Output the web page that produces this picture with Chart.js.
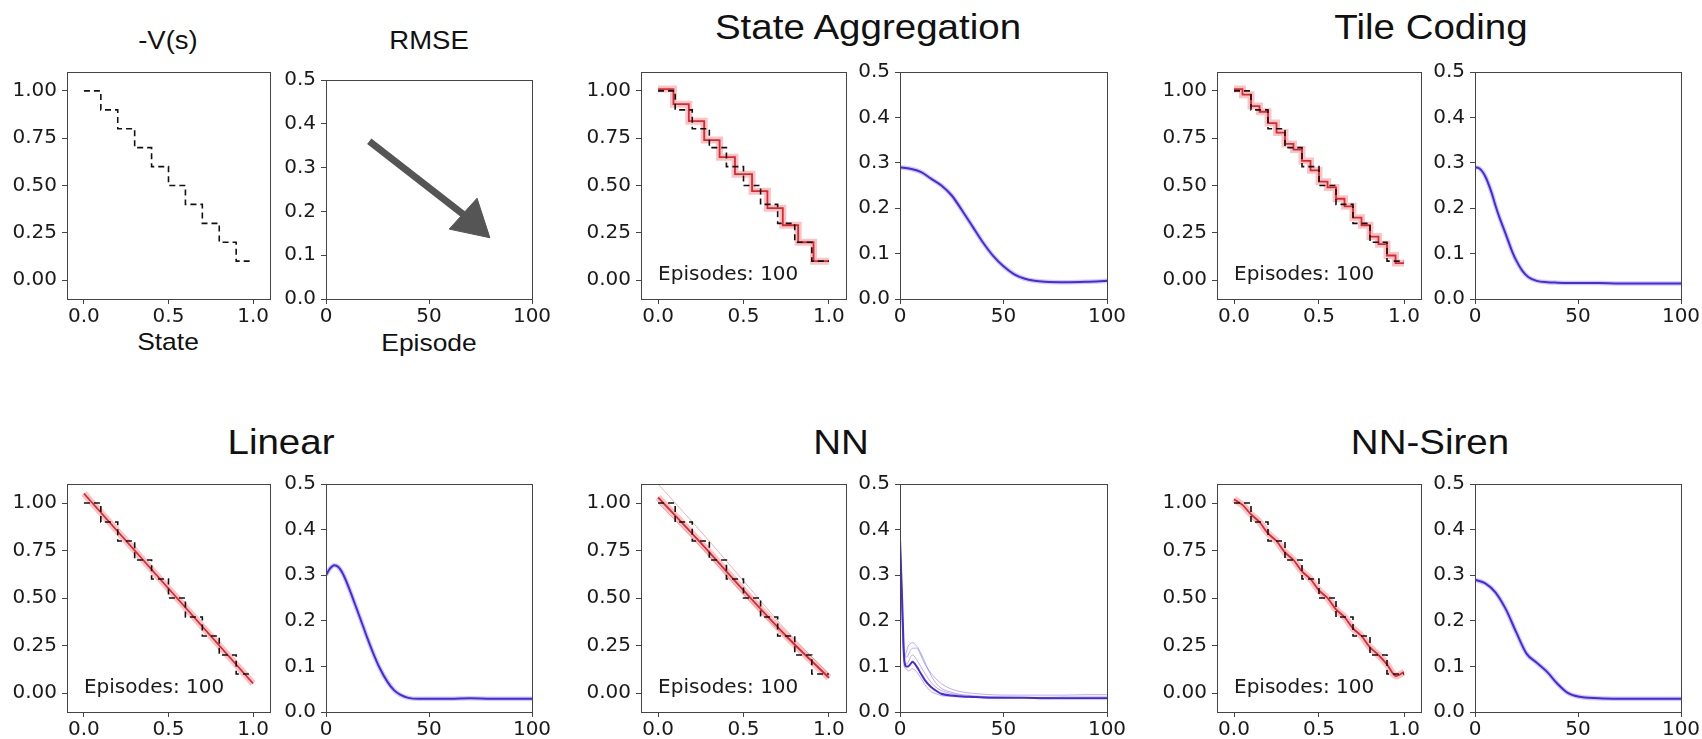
<!DOCTYPE html>
<html>
<head>
<meta charset="utf-8">
<script src="https://cdn.jsdelivr.net/npm/chart.js@4.4.1/dist/chart.umd.min.js"></script>
<style>
  body { margin: 0; background: #fff; width: 1702px; height: 739px; overflow: hidden; position: relative;
         font-family: 'Liberation Sans', Arial, sans-serif; color: #111; }
  .cell { position: absolute; }
  .lbl { position: absolute; transform: translate(-50%, -50%) scaleX(1.1); line-height: 1; white-space: nowrap; }
</style>
</head>
<body>
<div class="lbl" style="left:168px;top:40px;font-size:25px">-V(s)</div>
<div class="lbl" style="left:429px;top:40px;font-size:25px">RMSE</div>
<div class="lbl" style="left:168px;top:342px;font-size:24px">State</div>
<div class="lbl" style="left:429px;top:343px;font-size:24px">Episode</div>
<div class="lbl" style="left:868px;top:26px;font-size:35px">State Aggregation</div>
<div class="lbl" style="left:1431px;top:26px;font-size:35px">Tile Coding</div>
<div class="lbl" style="left:281px;top:441px;font-size:35px">Linear</div>
<div class="lbl" style="left:841px;top:441px;font-size:35px">NN</div>
<div class="lbl" style="left:1430px;top:441px;font-size:35px">NN-Siren</div>

<script>
// tick labels
const valueXTicks = [0, 0.5, 1.0];
const valueYTicks = [0, 0.25, 0.5, 0.75, 1.0];
const rmseXTicks = [0, 50, 100];
const rmseYTicks = [0, 0.1, 0.2, 0.3, 0.4, 0.5];

// true value (dashed staircase)
const stateX = [0, 0.1, 0.2, 0.3, 0.4, 0.5, 0.6, 0.7, 0.8, 0.9, 1.0];
const trueValue = [1.0, 0.9, 0.8, 0.7, 0.6, 0.5, 0.4, 0.3, 0.2, 0.1, 0.1];

// learned values after 100 episodes
const saStateX = [0, 0.09, 0.18, 0.27, 0.36, 0.45, 0.55, 0.64, 0.73, 0.82, 0.91, 1.0];
const saValue = [1.01, 0.93, 0.84, 0.74, 0.65, 0.56, 0.47, 0.38, 0.29, 0.20, 0.10, 0.10];

const tcStateX = [0, 0.05, 0.1, 0.15, 0.2, 0.25, 0.3, 0.35, 0.4, 0.45, 0.5, 0.55, 0.6, 0.65, 0.7, 0.75, 0.8, 0.85, 0.9, 0.95, 1.0];
const tcValue = [1.01, 0.98, 0.92, 0.89, 0.83, 0.78, 0.72, 0.69, 0.63, 0.58, 0.52, 0.49, 0.43, 0.39, 0.33, 0.29, 0.23, 0.19, 0.13, 0.09, 0.09];

const linStateX = [0, 1.0];
const linValue = [1.05, 0.05];

const nnStateX = [0, 0.25, 0.5, 0.75, 1.0];
const nnValueA = [1.03, 0.79, 0.54, 0.30, 0.08];
const nnValueB = [1.10, 0.85, 0.59, 0.33, 0.10];
const nnValueC = [1.00, 0.77, 0.52, 0.29, 0.09];

const sirenStateX = [0, 0.05, 0.1, 0.15, 0.2, 0.25, 0.3, 0.35, 0.4, 0.45, 0.5, 0.55, 0.6, 0.65, 0.7, 0.75, 0.8, 0.85, 0.9, 0.95, 1.0];
const sirenValue = [1.02, 0.99, 0.94, 0.90, 0.84, 0.80, 0.74, 0.70, 0.64, 0.60, 0.54, 0.50, 0.44, 0.40, 0.34, 0.30, 0.24, 0.20, 0.15, 0.09, 0.11];

// RMSE per episode
const saEp = [0, 5, 10, 15, 20, 25, 30, 35, 40, 45, 50, 55, 60, 65, 70, 80, 90, 100];
const saRmse = [0.29, 0.287, 0.28, 0.265, 0.25, 0.228, 0.195, 0.16, 0.125, 0.095, 0.072, 0.055, 0.045, 0.04, 0.038, 0.037, 0.038, 0.040];

const tcEp = [0, 2, 5, 8, 10, 12, 15, 18, 20, 23, 26, 30, 35, 40, 50, 60, 70, 80, 90, 100];
const tcRmse = [0.29, 0.288, 0.27, 0.235, 0.205, 0.178, 0.142, 0.105, 0.085, 0.062, 0.048, 0.04, 0.037, 0.036, 0.035, 0.035, 0.034, 0.034, 0.034, 0.034];

const linEp = [0, 2, 4, 6, 8, 10, 12, 15, 18, 20, 23, 26, 30, 33, 36, 40, 45, 50, 60, 70, 80, 90, 100];
const linRmse = [0.30, 0.315, 0.322, 0.318, 0.305, 0.285, 0.262, 0.225, 0.188, 0.163, 0.128, 0.097, 0.065, 0.048, 0.038, 0.031, 0.029, 0.029, 0.029, 0.03, 0.029, 0.029, 0.029];

const nnEp = [0, 1, 2, 3, 4, 5, 6, 8, 10, 12, 15, 18, 20, 25, 30, 35, 40, 50, 60, 70, 80, 90, 100];
const nnRmseA = [0.38, 0.25, 0.12, 0.10, 0.10, 0.105, 0.11, 0.10, 0.085, 0.07, 0.055, 0.045, 0.04, 0.036, 0.034, 0.033, 0.032, 0.031, 0.031, 0.03, 0.03, 0.03, 0.03];
const nnRmseB = [0.37, 0.22, 0.12, 0.13, 0.145, 0.15, 0.152, 0.145, 0.13, 0.11, 0.08, 0.06, 0.052, 0.043, 0.038, 0.036, 0.034, 0.033, 0.032, 0.032, 0.031, 0.031, 0.031];
const nnRmseC = [0.38, 0.20, 0.10, 0.095, 0.09, 0.092, 0.095, 0.088, 0.075, 0.06, 0.045, 0.039, 0.036, 0.034, 0.033, 0.032, 0.032, 0.031, 0.031, 0.031, 0.03, 0.03, 0.03];
const nnRmseD = [0.38, 0.24, 0.13, 0.12, 0.125, 0.135, 0.14, 0.14, 0.125, 0.105, 0.085, 0.07, 0.062, 0.05, 0.044, 0.041, 0.039, 0.037, 0.037, 0.037, 0.037, 0.038, 0.038];
const nnRmseE = [0.39, 0.26, 0.11, 0.105, 0.11, 0.12, 0.125, 0.115, 0.10, 0.085, 0.065, 0.052, 0.047, 0.04, 0.036, 0.034, 0.033, 0.032, 0.032, 0.032, 0.033, 0.033, 0.033];

const sirenEp = [0, 5, 10, 15, 20, 25, 30, 35, 40, 45, 50, 60, 70, 80, 90, 100];
const sirenRmse = [0.29, 0.282, 0.262, 0.225, 0.175, 0.128, 0.108, 0.088, 0.062, 0.042, 0.034, 0.030, 0.029, 0.029, 0.029, 0.029];

// the "RMSE goes down" arrow in the legend panel
const arrowEp = [21, 66.7];
const arrowRmse = [0.36, 0.193];
const arrowHead = [{ x: 70.9, y: 0.1765 }];

const PAD = { left: 60, top: 14, right: 30, bottom: 42 };

Chart.defaults.font.family = "'DejaVu Sans', sans-serif";
Chart.defaults.font.size = 20;
Chart.defaults.color = '#1a1a1a';

function pts(xs, ys) {
  return xs.map((x, i) => ({ x: x, y: ys[i] }));
}

const boxPlugin = {
  id: 'box',
  afterDraw(chart) {
    const a = chart.chartArea;
    const ctx = chart.ctx;
    ctx.save();
    ctx.strokeStyle = '#444';
    ctx.lineWidth = 1;
    ctx.strokeRect(Math.round(a.left) + 0.5, Math.round(a.top) + 0.5, Math.round(a.right - a.left), Math.round(a.bottom - a.top));
    ctx.restore();
  }
};

function notePlugin(text) {
  return {
    id: 'note',
    afterDraw(chart) {
      if (!text) return;
      const ctx = chart.ctx;
      ctx.save();
      ctx.font = "20px 'DejaVu Sans', sans-serif";
      ctx.fillStyle = '#1a1a1a';
      ctx.textBaseline = 'alphabetic';
      ctx.fillText(text, chart.scales.x.getPixelForValue(0), chart.scales.y.getPixelForValue(0));
      ctx.restore();
    }
  };
}

function dashed() {
  return { data: pts(stateX, trueValue), stepped: 'before', borderColor: '#111', borderWidth: 1.6, borderDash: [6, 4], order: 0 };
}
function redBand(data, stepped) {
  return { data: data, stepped: stepped || false, borderColor: 'rgba(238,110,115,0.4)', borderWidth: 7, tension: 0.3, order: 3 };
}
function redLine(data, stepped) {
  return { data: data, stepped: stepped || false, borderColor: 'rgb(226,36,46)', borderWidth: 1.8, tension: 0.3, order: 1 };
}
function blueBand(data) {
  return { data: data, borderColor: 'rgba(120,100,240,0.35)', borderWidth: 4.5, cubicInterpolationMode: 'monotone', order: 3 };
}
function blueLine(data) {
  return { data: data, borderColor: 'rgb(72,40,225)', borderWidth: 2, cubicInterpolationMode: 'monotone', order: 1 };
}
function blueThin(data) {
  return { data: data, borderColor: 'rgba(95,75,235,0.45)', borderWidth: 1, cubicInterpolationMode: 'monotone', order: 2 };
}

function makeChart(left, top, w, h, kind, datasets, note) {
  const div = document.createElement('div');
  div.className = 'cell';
  const cw = w + PAD.left + PAD.right;
  const ch = h + PAD.top + PAD.bottom;
  div.style.left = (left - PAD.left) + 'px';
  div.style.top = (top - PAD.top) + 'px';
  div.style.width = cw + 'px';
  div.style.height = ch + 'px';
  const canvas = document.createElement('canvas');
  canvas.width = cw;
  canvas.height = ch;
  div.appendChild(canvas);
  document.body.appendChild(div);

  const isValue = kind === 'value';
  const xTicks = isValue ? valueXTicks : rmseXTicks;
  const yTicks = isValue ? valueYTicks : rmseYTicks;
  const gridOpts = { drawOnChartArea: false, drawTicks: true, tickLength: 5, color: '#444' };
  const borderOpts = { display: true, color: '#444', width: 1 };

  new Chart(canvas, {
    type: 'line',
    data: { datasets: datasets },
    options: {
      responsive: false,
      animation: false,
      devicePixelRatio: 1,
      layout: { padding: { left: 0, top: PAD.top, right: PAD.right, bottom: 0 } },
      plugins: { legend: { display: false }, tooltip: { enabled: false } },
      elements: { point: { radius: 0 } },
      scales: {
        x: {
          type: 'linear',
          min: isValue ? -0.1 : 0,
          max: isValue ? 1.1 : 100,
          afterBuildTicks: s => { s.ticks = xTicks.map(v => ({ value: v })); },
          afterFit: s => { s.height = PAD.bottom; },
          ticks: { padding: 1, maxRotation: 0, callback: v => isValue ? v.toFixed(1) : String(v) },
          grid: gridOpts,
          border: borderOpts
        },
        y: {
          type: 'linear',
          min: isValue ? -0.1 : 0,
          max: isValue ? 1.1 : 0.5,
          afterBuildTicks: s => { s.ticks = yTicks.map(v => ({ value: v })); },
          afterFit: s => { s.width = PAD.left; },
          ticks: { padding: 5, callback: v => isValue ? v.toFixed(2) : v.toFixed(1) },
          grid: gridOpts,
          border: borderOpts
        }
      }
    },
    plugins: [boxPlugin, notePlugin(note)]
  });
}

const row1 = 69, row2 = 481, H = 230;

// legend pair
makeChart(67, row1, 203, H, 'value', [dashed()]);
makeChart(326, row1, 206, H, 'rmse', [
  { data: pts(arrowEp, arrowRmse), borderColor: '#555', borderWidth: 7, borderCapStyle: 'butt' },
  { data: arrowHead, showLine: false, pointStyle: 'triangle', pointRadius: 24, pointRotation: 132, backgroundColor: '#555', borderColor: '#555', borderWidth: 1 }
]);

// State Aggregation
makeChart(641, row1, 205, H, 'value', [
  dashed(), redLine(pts(saStateX, saValue), 'before'), redBand(pts(saStateX, saValue), 'before')
], 'Episodes: 100');
makeChart(900, row1, 207, H, 'rmse', [blueLine(pts(saEp, saRmse)), blueBand(pts(saEp, saRmse))]);

// Tile Coding
makeChart(1217, row1, 204, H, 'value', [
  dashed(), redLine(pts(tcStateX, tcValue), 'before'), redBand(pts(tcStateX, tcValue), 'before')
], 'Episodes: 100');
makeChart(1475, row1, 206, H, 'rmse', [blueLine(pts(tcEp, tcRmse)), blueBand(pts(tcEp, tcRmse))]);

// Linear
makeChart(67, row2, 203, H + 1, 'value', [
  dashed(), redLine(pts(linStateX, linValue)), redBand(pts(linStateX, linValue))
], 'Episodes: 100');
makeChart(326, row2, 206, H + 1, 'rmse', [blueLine(pts(linEp, linRmse)), blueBand(pts(linEp, linRmse))]);

// NN
makeChart(641, row2, 205, H + 1, 'value', [
  dashed(),
  redLine(pts(nnStateX, nnValueA)),
  { data: pts(nnStateX, nnValueB), borderColor: 'rgba(230,100,100,0.5)', borderWidth: 1, tension: 0.3, order: 2 },
  { data: pts(nnStateX, nnValueC), borderColor: 'rgba(230,100,100,0.5)', borderWidth: 1, tension: 0.3, order: 2 },
  redBand(pts(nnStateX, nnValueA))
], 'Episodes: 100');
makeChart(900, row2, 207, H + 1, 'rmse', [
  blueLine(pts(nnEp, nnRmseA)),
  blueThin(pts(nnEp, nnRmseB)),
  blueThin(pts(nnEp, nnRmseC)),
  blueThin(pts(nnEp, nnRmseD)),
  blueThin(pts(nnEp, nnRmseE))
]);

// NN-Siren
makeChart(1217, row2, 204, H + 1, 'value', [
  dashed(), redLine(pts(sirenStateX, sirenValue)), redBand(pts(sirenStateX, sirenValue))
], 'Episodes: 100');
makeChart(1475, row2, 206, H + 1, 'rmse', [blueLine(pts(sirenEp, sirenRmse)), blueBand(pts(sirenEp, sirenRmse))]);
</script>
</body>
</html>
